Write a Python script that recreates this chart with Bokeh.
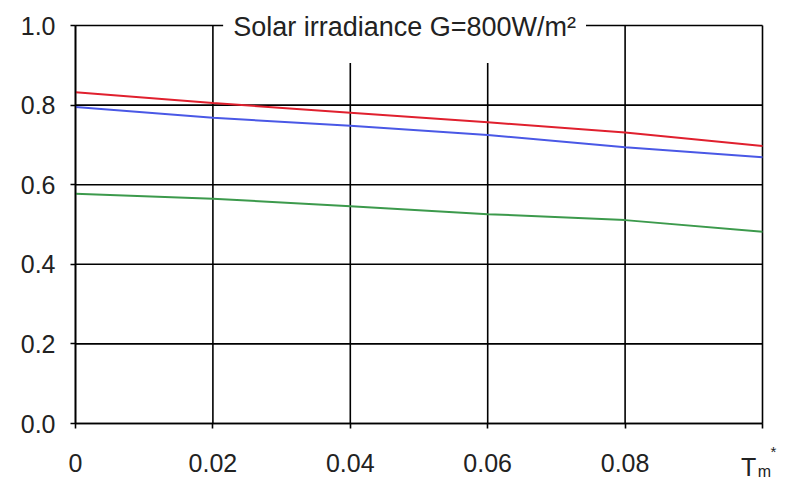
from bokeh.plotting import figure
from bokeh.models import FixedTicker, Label
from bokeh.embed import file_html
from bokeh.resources import INLINE

# data
tm = [0.0, 0.02, 0.04, 0.06, 0.08, 0.10]
eff_red = [0.832, 0.805, 0.781, 0.757, 0.731, 0.697]
eff_blue = [0.795, 0.768, 0.748, 0.725, 0.694, 0.669]
eff_green = [0.577, 0.565, 0.546, 0.526, 0.511, 0.482]
x_ticks = [0.0, 0.02, 0.04, 0.06, 0.08, 0.10]
x_tick_labels = ["0", "0.02", "0.04", "0.06", "0.08", ""]
y_ticks = [0.0, 0.2, 0.4, 0.6, 0.8, 1.0]
y_tick_labels = ["0.0", "0.2", "0.4", "0.6", "0.8", "1.0"]
title_text = "Solar irradiance G=800W/m²"

FONT = "Liberation Sans"
TXT = "#222222"

# layout (pixels) -> data ranges so that the plotting box sits where the reference has it
W, H = 787, 480
LEFT, RIGHT, TOP, BOTTOM = 75, 762, 25, 423
x0, x1 = x_ticks[0], x_ticks[-1]
y0, y1 = y_ticks[0], y_ticks[-1]
xs = (x1 - x0) / (RIGHT - LEFT)
ys = (y1 - y0) / (BOTTOM - TOP)
x_range = (x0 - LEFT * xs, x1 + (W - RIGHT) * xs)
y_range = (y0 - (H - BOTTOM) * ys, y1 + TOP * ys)

p = figure(frame_width=W, frame_height=H, x_range=x_range, y_range=y_range,
           output_backend="svg", toolbar_location=None,
           min_border_left=0, min_border_right=0, min_border_top=0, min_border_bottom=0)
p.background_fill_color = "white"
p.border_fill_color = "white"
p.outline_line_color = None
p.grid.visible = False

# grid lines (incl. top and right border) from the tick lists
p.segment(x0=x_ticks, y0=[y0] * len(x_ticks), x1=x_ticks, y1=[y1] * len(x_ticks),
          line_color="black", line_width=1.6)
p.segment(x0=[x0] * len(y_ticks), y0=y_ticks, x1=[x1] * len(y_ticks), y1=y_ticks,
          line_color="black", line_width=1.6)

for ax in (p.xaxis[0], p.yaxis[0]):
    ax.fixed_location = 0
    ax.axis_line_color = "black"
    ax.axis_line_width = 1.6
    ax.major_tick_line_color = "black"
    ax.major_tick_line_width = 1.6
    ax.major_tick_out = 5
    ax.major_tick_in = 0
    ax.minor_tick_line_color = None
    ax.major_label_text_font = FONT
    ax.major_label_text_font_size = "25px"
    ax.major_label_text_color = TXT

p.xaxis.bounds = (x0, x1)
p.yaxis.bounds = (y0, y1)
p.xaxis.ticker = FixedTicker(ticks=x_ticks)
p.yaxis.ticker = FixedTicker(ticks=y_ticks)
p.xaxis.major_label_overrides = {t: s for t, s in zip(x_ticks, x_tick_labels)}
p.yaxis.major_label_overrides = {t: s for t, s in zip(y_ticks, y_tick_labels)}
p.xaxis.major_label_standoff = 25
p.yaxis.major_label_standoff = 15

p.line(tm, eff_red, line_color="#e0202e", line_width=2)
p.line(tm, eff_blue, line_color="#4a58e6", line_width=2)
p.line(tm, eff_green, line_color="#3c9a4c", line_width=2)

# title box inside the plot, interrupting the top border
p.add_layout(Label(x=0.0479, y=y1 - 3 * ys, text=title_text, text_align="center", text_baseline="middle",
                   text_font=FONT, text_font_size="27px", text_color=TXT,
                   background_fill_color="white",
                   padding=dict(left=10, right=10, top=18, bottom=21)))

# T_m^* tick label at x = 0.1
p.add_layout(Label(x=0.098, y=-0.110, text="T", text_align="center", text_baseline="alphabetic",
                   text_font=FONT, text_font_size="25px", text_color=TXT))
p.add_layout(Label(x=0.0993, y=-0.120, text="m", text_align="left", text_baseline="alphabetic",
                   text_font=FONT, text_font_size="16px", text_color=TXT))
p.add_layout(Label(x=0.1016, y=-0.050, text="*", text_align="center", text_baseline="top",
                   text_font=FONT, text_font_size="15px", text_color=TXT))

open("out.html", "w").write(file_html(p, INLINE))
